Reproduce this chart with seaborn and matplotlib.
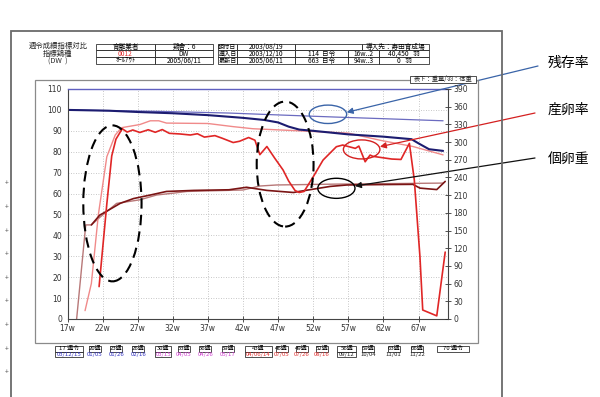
import numpy as np
import pandas as pd
import matplotlib
matplotlib.use("Agg")
import matplotlib.pyplot as plt
import seaborn as sns
from matplotlib.patches import Ellipse, Rectangle
from matplotlib.lines import Line2D

# ---------------- data ----------------
# 残存率 (survival) actual / standard
surv_act_w = [17, 20, 23, 27, 32, 37, 42, 45, 47, 48.5, 50, 52, 57, 62, 66, 67, 68.5, 70.5]
surv_act_v = [100, 99.8, 99.6, 99.0, 98.4, 97.5, 96.2, 95.2, 94.0, 92.0, 90.6, 90.0, 88.3, 87.2, 86.0, 84.0, 81.2, 80.4]
surv_std_w = [17, 30, 40, 47, 55, 62, 70.5]
surv_std_v = [100, 99.3, 98.5, 97.6, 96.6, 95.8, 94.8]

# 産卵率 (laying rate) standard / actual
lay_std_w = [19.5, 20.4, 21.4, 22.6, 23.8, 24.7, 27.3, 28.8, 30, 31.1, 37, 40.6, 43.4, 50, 57, 61.5, 66.2, 70.5]
lay_std_v = [4, 17, 50, 77.6, 88, 91.5, 93, 94.8, 94.8, 93.7, 93.5, 92, 91, 90, 88.9, 85.5, 82.5, 78.5]
lay_act_w = [21.5, 22.6, 23.3, 23.9, 24.8, 25.5, 26.3, 27.3, 28.5, 29.5, 30.5, 31.5, 33, 34.5, 35.5,
             36.5, 38, 39, 40.6, 41.5, 42.8, 43.7, 44.4, 45.4, 46.5, 47.7, 48.5, 49.4, 50, 50.7, 52,
             53.4, 55.3, 56.2, 57.1, 58, 58.5, 59.4, 60.1, 60.5, 63.2, 64.5, 65.7, 66.4, 67.2, 67.6, 69.6, 70.8]
lay_act_v = [15.5, 55, 78, 86, 91, 89.4, 90.4, 89.2, 90.5, 89.3, 90.6, 88.8, 88.5, 88, 88.6,
             87, 87.7, 86.5, 84.4, 85, 86.8, 85.5, 78.6, 82.5, 77, 71.3, 66, 61.5, 60.5, 61, 68,
             76, 82.4, 83.2, 82.4, 81.6, 82.7, 75.2, 78.4, 77.8, 76.5, 76.3, 84, 66.5, 30, 4.3, 1.5, 32]

# 個卵重 (egg weight) actual / standard
egg_act_w = [20.4, 21.6, 22.3, 24.5, 26.4, 28.8, 31.1, 35, 40, 42.5, 45.4, 49.2, 50, 54.4, 56.8, 62, 66.2, 67.2, 69.6, 70.8]
egg_act_v = [45, 49.7, 51, 55.3, 57.6, 59.3, 61, 61.5, 61.8, 63, 61.5, 60.5, 61, 63.4, 64.1, 64.3, 64.4, 62.6, 61.9, 65.8]
egg_std_w = [18.3, 19.6, 20.4, 21.6, 24, 27.3, 29.7, 32.1, 34, 42, 44.4, 46.8, 55, 70.5]
egg_std_v = [0, 45, 45, 48.6, 55.3, 57, 59.3, 60.2, 61, 61.7, 63.6, 64.1, 64.5, 65]

x_ticks = [17, 22, 27, 32, 37, 42, 47, 52, 57, 62, 67]
x_tick_labels = [f"{w}w" for w in x_ticks]
left_ticks = list(range(0, 111, 10))
right_ticks = list(range(0, 391, 30))

week_labels = ["17 週令", "20週", "23週", "26週", "30週", "33週", "36週", "39週", "43週",
               "46週", "49週", "52週", "56週", "59週", "63週", "66週", "70 週令"]
week_dates = ["03/12/15", "01/05", "01/26", "02/16", "03/15", "04/05", "04/26", "05/17", "04/06/14",
              "07/05", "07/26", "08/16", "09/12", "10/04", "11/01", "11/22", ""]

series_labels = ["残存率", "産卵率", "個卵重"]

# ---------------- layout helpers ----------------
W, H = 600, 397
def fx(x): return x / W
def fy(y): return 1 - y / H

sns.set_theme(style="white")
plt.rcParams['font.family'] = ['Noto Sans CJK JP', 'DejaVu Sans']

fig = plt.figure(figsize=(6, 3.97), dpi=100)
fig.patch.set_facecolor("white")

# frames
fig.add_artist(Rectangle((fx(11), fy(400)), fx(502) - fx(11), fy(31) - fy(400),
                         transform=fig.transFigure, fill=False, ec="#6a6a6a", lw=1.3))
fig.add_artist(Rectangle((fx(35), fy(343)), fx(478) - fx(35), fy(80) - fy(343),
                         transform=fig.transFigure, fill=False, ec="#8a8a8a", lw=0.9))
for yy in [183, 207, 231, 254, 278, 301, 325, 349, 372]:
    fig.text(fx(7), fy(yy), "+", fontsize=5, color="#555555", ha="center", va="center")

# ---------------- main axes ----------------
ax = fig.add_axes([fx(67.5), fy(319), fx(448) - fx(67.5), fy(89) - fy(319)])
ax.set_xlim(17, 71.2)
ax.set_ylim(0, 110)

line_specs = [
    (surv_std_w, surv_std_v, "#6b6bc0", 0.9),
    (egg_std_w, egg_std_v, "#b87878", 1.0),
    (lay_std_w, lay_std_v, "#f08a8a", 1.0),
    (egg_act_w, egg_act_v, "#7a1414", 1.2),
    (lay_act_w, lay_act_v, "#e02626", 1.2),
    (surv_act_w, surv_act_v, "#1c1c70", 1.5),
]
for wk, vals, col, lw in line_specs:
    sns.lineplot(x=wk, y=vals, ax=ax, color=col, linewidth=lw, estimator=None, sort=False, legend=False)

ax.set_xticks(x_ticks)
ax.set_xticklabels(x_tick_labels, fontsize=5.5, color="#333333", family="DejaVu Sans")
ax.set_yticks(left_ticks)
ax.set_yticklabels([str(t) for t in left_ticks], fontsize=5.5, color="#333333", family="DejaVu Sans")
ax.tick_params(axis="x", direction="inout", length=4, width=0.6, color="#333333", pad=1.5, bottom=True)
ax.tick_params(axis="y", length=0, pad=4)
ax.grid(True, linestyle=(0, (1, 2)), color="#b5b5b5", linewidth=0.6)
ax.set_xlabel("")
ax.set_ylabel("")
for s in ["left", "bottom"]:
    ax.spines[s].set_color("#444444")
    ax.spines[s].set_linewidth(0.8)
ax.spines["top"].set_color("#6060c0")
ax.spines["top"].set_linewidth(1.0)
ax.spines["right"].set_visible(False)

ax2 = ax.twinx()
ax2.set_ylim(0, 390)
ax2.set_yticks(right_ticks)
ax2.set_yticklabels([str(t) for t in right_ticks], fontsize=5.5, color="#333333", family="DejaVu Sans")
ax2.tick_params(axis="y", direction="inout", length=4, width=0.6, color="#333333", pad=2, right=True)
for s in ["left", "top", "bottom"]:
    ax2.spines[s].set_visible(False)
ax2.spines["right"].set_color("#444444")
ax2.spines["right"].set_linewidth(0.8)

# ellipses (annotation)
ax.add_patch(Ellipse((23.4, 55.3), 8.3, 74.6, fill=False, ec="black", lw=1.5, ls=(0, (5, 3)), zorder=5))
ax.add_patch(Ellipse((48.0, 74.1), 8.1, 59.8, fill=False, ec="black", lw=1.5, ls=(0, (5, 3)), zorder=5))
ax.add_patch(Ellipse((54.1, 97.9), 5.33, 8.8, fill=False, ec="#3a64a8", lw=1.0, zorder=5))
ax.add_patch(Ellipse((58.9, 81.1), 5.2, 9.1, fill=False, ec="#d42020", lw=1.0, zorder=5))
ax.add_patch(Ellipse((55.3, 62.5), 5.3, 9.6, fill=False, ec="black", lw=1.0, zorder=5))

# arrows from labels
arrow_specs = [
    ((56.77, 98.85), (538, 66), "#3a64a8"),
    ((61.5, 82.4), (535, 113), "#d42020"),
    ((57.95, 63.6), (535, 158), "#111111"),
]
for (hx, hy), (tx, ty), col in arrow_specs:
    ax.annotate("", xy=(hx, hy), xycoords="data", xytext=(fx(tx), fy(ty)), textcoords="figure fraction",
                arrowprops=dict(arrowstyle="-|>", color=col, lw=0.9, mutation_scale=9, shrinkA=0, shrinkB=0),
                annotation_clip=False, zorder=6)
for lab, yy in zip(series_labels, [62.5, 110, 158.5]):
    fig.text(fx(548), fy(yy), lab, fontsize=10, color="black", ha="left", va="center")

# ---------------- header ----------------
hfs = 4.8
fig.text(fx(58), fy(45.5), "週令成績指標対比", fontsize=5.3, ha="center", va="center")
fig.text(fx(58), fy(54), "指標鶏種", fontsize=5.3, ha="center", va="center")
fig.text(fx(58), fy(62), "(DW  )", fontsize=5.3, ha="center", va="center")

def cell(x0, x1, y0, y1, txt="", color="black", fs=hfs):
    fig.add_artist(Rectangle((fx(x0), fy(y1)), fx(x1) - fx(x0), fy(y0) - fy(y1),
                             transform=fig.transFigure, fill=False, ec="#333333", lw=0.6))
    if txt:
        fig.text(fx((x0 + x1) / 2), fy((y0 + y1) / 2), txt, fontsize=fs, color=color, ha="center", va="center")

rows = [43.5, 50.3, 57.1, 64]
# table 1
cell(96, 155, rows[0], rows[1], "育雛業者")
cell(155, 213, rows[0], rows[1], "鶏舎：6")
cell(96, 155, rows[1], rows[2], "0012", color="#e03030")
cell(155, 213, rows[1], rows[2], "DW")
cell(96, 155, rows[2], rows[3], "ｵｰﾙｱｳﾄ")
cell(155, 213, rows[2], rows[3], "2005/06/11")
# table 2
lab_fs = 4.4
cell(218, 237, rows[0], rows[1], "餌付日", fs=lab_fs)
cell(237, 295, rows[0], rows[1], "2003/08/19")
cell(295, 362, rows[0], rows[1], "")
cell(362, 429, rows[0], rows[1], "導入先：寿田育成場")
cell(218, 237, rows[1], rows[2], "導入日", fs=lab_fs)
cell(237, 295, rows[1], rows[2], "2003/12/10")
cell(295, 348, rows[1], rows[2], "114  日令")
cell(348, 379, rows[1], rows[2], "16w..2")
cell(379, 429, rows[1], rows[2], "40,450   羽")
cell(218, 237, rows[2], rows[3], "最新日", fs=lab_fs)
cell(237, 295, rows[2], rows[3], "2005/06/11")
cell(295, 348, rows[2], rows[3], "663  日令")
cell(348, 379, rows[2], rows[3], "94w..3")
cell(379, 429, rows[2], rows[3], "0   羽")

fig.add_artist(Rectangle((fx(410), fy(83)), fx(476) - fx(410), fy(76) - fy(83),
                         transform=fig.transFigure, fc="white", ec="#333333", lw=0.6, zorder=3))
fig.text(fx(443), fy(79.5), "表下：重量/羽：体重", fontsize=4.5, ha="center", va="center", zorder=4)

# ---------------- week boxes ----------------
week_x = [69, 95, 116.3, 138.3, 163.3, 183.8, 205.3, 227.7, 258.5, 281.7, 301.7, 321.7, 346.7, 368, 393.5, 417, 453]
date_cols = ["#3030c0"] * 4 + ["#d040d0"] * 4 + ["#e03030"] * 4 + ["#222222"] * 4 + ["#222222"]
big = {0: 28, 8: 27, 12: 19, 16: 32}
wfs = 4.3
for i, (lab, dt, xc, dc) in enumerate(zip(week_labels, week_dates, week_x, date_cols)):
    if i in big:
        bw = big[i]
        cell(xc - bw / 2, xc + bw / 2, 346, 351.5, lab, fs=wfs)
        if dt:
            cell(xc - bw / 2, xc + bw / 2, 351.5, 357, dt, color=dc, fs=wfs)
    else:
        bw = 12 if i != 4 else 16
        cell(xc - bw / 2, xc + bw / 2, 346, 351.5, lab, fs=wfs)
        if i == 4:
            cell(xc - bw / 2, xc + bw / 2, 351.5, 357, dt, color=dc, fs=wfs)
        else:
            fig.text(fx(xc), fy(354.5), dt, fontsize=wfs, color=dc, ha="center", va="center")

fig.savefig("out.png", dpi=100, facecolor="white")
